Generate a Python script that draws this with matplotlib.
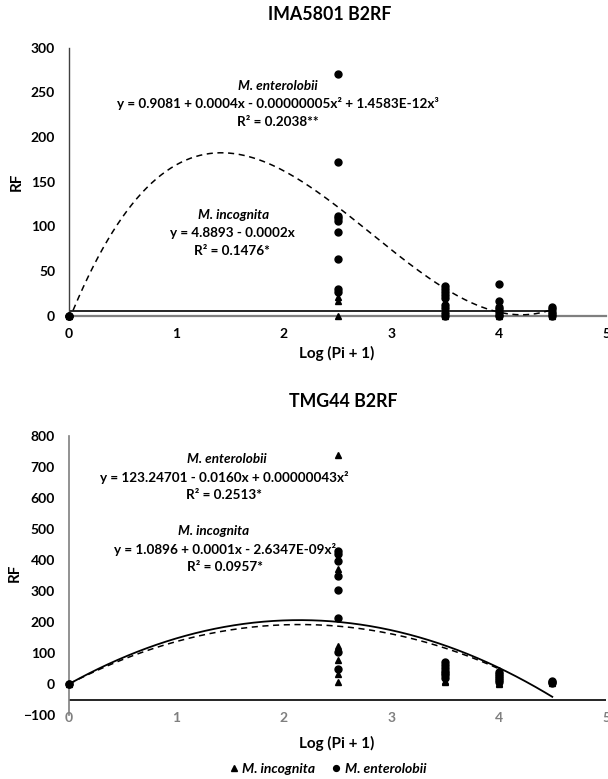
import numpy as np
import matplotlib
matplotlib.use("Agg")
import matplotlib.pyplot as plt
from matplotlib.lines import Line2D

plt.rcParams['font.family'] = ['Lato', 'DejaVu Sans']
plt.rcParams['font.weight'] = 'bold'

W, H = 608, 779

# ---------------- data: IMA5801 B2RF ----------------
top_ent_x = [0, 0, 0,
             2.5, 2.5, 2.5, 2.5, 2.5, 2.5, 2.5, 2.5, 2.5,
             3.5, 3.5, 3.5, 3.5, 3.5, 3.5, 3.5, 3.5, 3.5,
             4, 4, 4, 4, 4, 4, 4,
             4.5, 4.5, 4.5, 4.5, 4.5]
top_ent_y = [0, 0, 0,
             270, 172, 112, 109, 106, 94, 63, 30, 27,
             33, 30, 27, 23, 20, 12, 9, 3, 0,
             36, 17, 10, 7, 4, 1, 0,
             10, 7, 4, 2, 0]
top_inc_x = [0, 2.5, 2.5, 2.5, 3.5, 3.5, 4, 4.5]
top_inc_y = [0, 21, 16, 0, 0, 1, 0, 0]

# trend lines
top_ent_curve_x = [0, 0.25, 0.5, 0.8, 1.1, 1.4, 1.9, 2.25, 2.5, 3.0, 3.5, 4.0, 4.25, 4.5]
top_ent_curve_y = [0, 50, 115, 155, 173, 182, 170, 143, 120, 76, 30, 4, 0, 8]
top_inc_line_x = [0, 4.5]
top_inc_line_y = [4.9, 4.9]

# ---------------- data: TMG44 B2RF ----------------
bot_ent_x = [0, 0,
             2.5, 2.5, 2.5, 2.5, 2.5, 2.5, 2.5, 2.5,
             3.5, 3.5, 3.5, 3.5, 3.5, 3.5, 3.5,
             4, 4, 4, 4, 4, 4,
             4.5, 4.5, 4.5]
bot_ent_y = [0, 0,
             428, 418, 398, 350, 303, 212, 103, 50,
             72, 62, 52, 42, 35, 28, 20,
             40, 32, 25, 18, 12, 5,
             10, 6, 3]
bot_inc_x = [0, 2.5, 2.5, 2.5, 2.5, 2.5, 2.5, 3.5, 3.5, 4, 4, 4, 4.5]
bot_inc_y = [0, 738, 372, 122, 78, 33, 8, 10, 5, 45, 2, 0, 2]

bot_inc_curve_x = [0, 0.5, 1, 1.5, 2, 2.5, 3, 3.5, 4, 4.5]
bot_inc_curve_y = [0, 85, 147, 187, 205, 200, 174, 125, 53, -42]
bot_ent_curve_x = [0, 0.5, 1, 1.5, 2, 2.5, 3, 3.5, 4]
bot_ent_curve_y = [0, 79, 137, 174, 191, 187, 162, 115, 50]

x_ticks = [0, 1, 2, 3, 4, 5]
top_yticks = [0, 50, 100, 150, 200, 250, 300]
bot_yticks = [-100, 0, 100, 200, 300, 400, 500, 600, 700, 800]

fig = plt.figure(figsize=(W / 100, H / 100), dpi=100)


def px_axes(x0, x1, y_top, y_bot):
    return fig.add_axes([x0 / W, 1 - y_bot / H, (x1 - x0) / W, (y_bot - y_top) / H])


def ftext(x, y, s, **kw):
    fig.text(x / W, 1 - y / H, s, ha='center', va='center', **kw)


def trend(ax, xs, ys, deg, **kw):
    c = np.polyfit(xs, ys, deg)
    xx = np.linspace(min(xs), max(xs), 200)
    ax.plot(xx, np.polyval(c, xx), **kw)


tick_fs = 10
ms_c = 5.0
ms_t = 5.0
eq_fs = 9.7
title_fs = 12.8
lab_fs = 11

# ---------------- top chart ----------------
ax1 = px_axes(69, 606, 47.7, 315.7)
ax1.set_xlim(0, 5)
ax1.set_ylim(0, 300)
for s in ['top', 'right', 'bottom']:
    ax1.spines[s].set_visible(False)
ax1.spines['left'].set_color('#404040')
ax1.spines['left'].set_linewidth(1.0)
ax1.axhline(0, color='#7f7f7f', lw=1.6, zorder=1, clip_on=False)
ax1.plot(top_inc_line_x, top_inc_line_y, color='black', lw=1.2, zorder=2)
trend(ax1, top_ent_curve_x, top_ent_curve_y, 3, color='black', lw=1.1,
      linestyle=(0, (4, 3)), zorder=2)
ax1.plot(top_inc_x, top_inc_y, '^', color='black', ms=ms_t, ls='none', clip_on=False, zorder=3)
ax1.plot(top_ent_x, top_ent_y, 'o', color='black', ms=ms_c, ls='none', clip_on=False, zorder=3)
ax1.set_xticks(x_ticks)
ax1.set_yticks(top_yticks)
ax1.tick_params(axis='both', length=0, labelsize=tick_fs)
ax1.tick_params(axis='x', pad=9, labelcolor='black')
ax1.tick_params(axis='y', pad=10)
for lab in ax1.get_xticklabels() + ax1.get_yticklabels():
    lab.set_fontweight('bold')

ftext(330, 14, 'IMA5801 B2RF', fontsize=title_fs, fontweight='bold')
ftext(17, 182, 'RF', fontsize=lab_fs, fontweight='bold', rotation=90)
ftext(337, 353, 'Log (Pi + 1)', fontsize=lab_fs, fontweight='bold')

ftext(278, 86, 'M. enterolobii', fontsize=eq_fs, fontweight='bold', style='italic')
ftext(278, 104, 'y = 0.9081 + 0.0004x - 0.00000005x² + 1.4583E-12x³', fontsize=eq_fs, fontweight='bold')
ftext(278, 122, 'R² = 0.2038**', fontsize=eq_fs, fontweight='bold')
ftext(234, 215, 'M. incognita', fontsize=eq_fs, fontweight='bold', style='italic')
ftext(232, 233, 'y = 4.8893 - 0.0002x', fontsize=eq_fs, fontweight='bold')
ftext(232, 251, 'R² = 0.1476*', fontsize=eq_fs, fontweight='bold')

# ---------------- bottom chart ----------------
ax2 = px_axes(69, 606, 436, 715)
ax2.set_xlim(0, 5)
ax2.set_ylim(-100, 800)
for s in ['top', 'right', 'bottom']:
    ax2.spines[s].set_visible(False)
ax2.spines['left'].set_color('#7f7f7f')
ax2.spines['left'].set_linewidth(1.2)
ax2.axhline(-50, color='black', lw=1.2, zorder=1)
trend(ax2, bot_inc_curve_x, bot_inc_curve_y, 2, color='black', lw=1.3, zorder=2)
trend(ax2, bot_ent_curve_x, bot_ent_curve_y, 2, color='black', lw=1.1,
      linestyle=(0, (4, 3)), zorder=2)
ax2.plot(bot_inc_x, bot_inc_y, '^', color='black', ms=ms_t, ls='none', clip_on=False, zorder=3)
ax2.plot(bot_ent_x, bot_ent_y, 'o', color='black', ms=ms_c, ls='none', clip_on=False, zorder=3)
ax2.set_xticks(x_ticks)
ax2.set_yticks(bot_yticks)
ax2.tick_params(axis='both', length=0, labelsize=tick_fs)
ax2.tick_params(axis='x', pad=-2, labelcolor='#7f7f7f')
ax2.tick_params(axis='y', pad=10)
for lab in ax2.get_xticklabels() + ax2.get_yticklabels():
    lab.set_fontweight('bold')

ftext(343, 401, 'TMG44 B2RF', fontsize=title_fs, fontweight='bold')
ftext(15, 573, 'RF', fontsize=lab_fs, fontweight='bold', rotation=90)
ftext(337, 743, 'Log (Pi + 1)', fontsize=lab_fs, fontweight='bold')

ftext(227, 459, 'M. enterolobii', fontsize=eq_fs, fontweight='bold', style='italic')
ftext(224, 477, 'y = 123.24701 - 0.0160x + 0.00000043x²', fontsize=eq_fs, fontweight='bold')
ftext(224, 495, 'R² = 0.2513*', fontsize=eq_fs, fontweight='bold')
ftext(214, 531, 'M. incognita', fontsize=eq_fs, fontweight='bold', style='italic')
ftext(225, 549, 'y = 1.0896 + 0.0001x - 2.6347E-09x²', fontsize=eq_fs, fontweight='bold')
ftext(225, 567, 'R² = 0.0957*', fontsize=eq_fs, fontweight='bold')

# ---------------- legend ----------------
handles = [Line2D([], [], marker='^', color='black', ls='none', ms=4.2),
           Line2D([], [], marker='o', color='black', ls='none', ms=4.2)]
leg = fig.legend(handles, ['M. incognita', 'M. enterolobii'],
                 loc='center', bbox_to_anchor=(328 / W, 1 - 769 / H), ncol=2,
                 frameon=False, handlelength=0.6, handletextpad=0.3, columnspacing=1.2,
                 prop={'size': 10, 'weight': 'bold', 'style': 'italic'})

fig.savefig('out.png', dpi=100)
